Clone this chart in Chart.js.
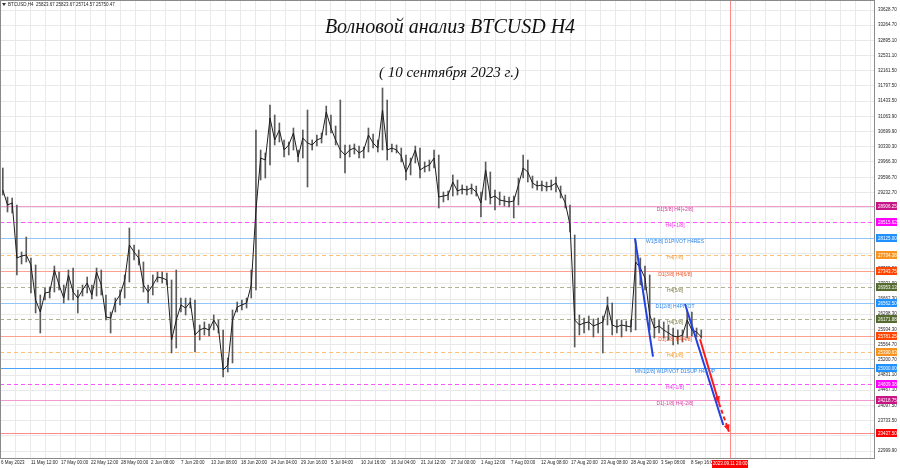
<!DOCTYPE html>
<html>
<head>
<meta charset="utf-8">
<script src="https://cdn.jsdelivr.net/npm/chart.js@4.4.0/dist/chart.umd.min.js"></script>
<style>
  html, body { margin: 0; padding: 0; background: #fff; }
  #wrap { width: 900px; height: 468px; }
</style>
</head>
<body>
<div id="wrap"><canvas id="chart" width="900" height="468"></canvas></div>
<script>
// BTCUSD H4, 6 May – 10 Sep 2023. Each slot = 5 H4 bars (bar index 5i..5i+4)

const xLabels = ['6 May 2023', '11 May 12:00', '17 May 00:00', '22 May 12:00', '28 May 00:00', '2 Jun 08:00',
    '7 Jun 20:00', '13 Jun 08:00', '18 Jun 20:00', '24 Jun 04:00', '29 Jun 16:00', '5 Jul 04:00',
    '10 Jul 16:00', '16 Jul 04:00', '21 Jul 12:00', '27 Jul 00:00', '1 Aug 12:00', '7 Aug 00:00',
    '12 Aug 08:00', '17 Aug 20:00', '23 Aug 08:00', '28 Aug 20:00', '3 Sep 08:00', '8 Sep 16:00'];

const yTicks = [33628.70, 33264.70, 32895.10, 32531.10, 32161.50, 31797.50, 31433.50, 31063.90, 30699.90,
    30330.30, 29966.30, 29596.70, 29232.70, 28863.10, 28499.10, 28129.50, 27765.50, 27395.90, 27031.90,
    26662.30, 26298.30, 25934.30, 25564.70, 25200.70, 24831.10, 24467.10, 24097.50, 23733.50, 23369.50, 22999.90];

const closes = [29291, 28930, 28978, 27652, 27700, 27725, 27484, 26640, 26351, 26809,
    26833, 27363, 27002, 26688, 27243, 26833, 26688, 26881, 27050, 26761,
    27315, 27002, 26230, 26206, 26592, 26761, 27122, 27966, 27797, 27652,
    27002, 26833, 27002, 27194, 27170, 27122, 25676, 26158, 26520, 26447,
    26592, 25797, 25917, 25965, 25917, 26158, 25965, 24953, 25074, 26158,
    26471, 26520, 26568, 27002, 28809, 30062, 30014, 31026, 30496, 30737,
    30255, 30376, 30665, 30086, 30544, 30424, 30376, 30496, 30544, 31171,
    30785, 30496, 30255, 30135, 30255, 30303, 30183, 30255, 30617, 30424,
    30303, 31219, 30255, 30303, 30255, 30110, 29725, 29966, 30255, 29773,
    29845, 29894, 30062, 29122, 29146, 29171, 29484, 29267, 29315, 29291,
    29339, 29243, 28978, 29773, 29098, 29146, 29050, 29026, 29002, 29026,
    29412, 29821, 29725, 29460, 29387, 29412, 29363, 29387, 29460, 29219,
    28978, 28448, 26158, 26038, 26086, 26110, 26014, 26062, 26110, 26520,
    26038, 25990, 26038, 26014, 25990, 27556, 27411, 27170, 26279, 25965,
    26014, 25917, 25845, 25772, 25748, 25797, 26158, 25917, 25869, 25750];

const highs = [29821, 29122, 29098, 28930, 27797, 28158, 27652, 27484, 26761, 26929,
    26953, 27459, 27315, 27002, 27363, 27411, 26881, 27002, 27194, 27002,
    27411, 27363, 26761, 26351, 26688, 26881, 27243, 28375, 27966, 27845,
    27556, 27002, 27243, 27315, 27315, 27291, 27122, 27363, 26688, 26688,
    26688, 26640, 26038, 26110, 26062, 26279, 26158, 25917, 25242, 26399,
    26592, 26640, 26688, 27363, 30737, 30255, 30183, 31340, 31099, 30906,
    30496, 30448, 30785, 30255, 30737, 31219, 30496, 30617, 30665, 31315,
    31099, 30833, 31460, 30376, 30376, 30400, 30351, 30327, 30785, 30641,
    30496, 31749, 31460, 30400, 30376, 30303, 30135, 30062, 30351, 30303,
    29966, 30014, 30255, 30135, 29243, 29267, 29653, 29532, 29412, 29387,
    29436, 29387, 29243, 29966, 29725, 29291, 29243, 29146, 29122, 29146,
    29580, 30135, 30014, 29628, 29508, 29508, 29484, 29532, 29604, 29387,
    29171, 28930, 28207, 26279, 26206, 26254, 26182, 26206, 26254, 26712,
    26568, 26158, 26158, 26134, 26158, 28062, 27652, 27459, 27243, 26206,
    26158, 26110, 26038, 25965, 25917, 25917, 26399, 26351, 25965, 25920];

const lows = [29170, 28761, 28737, 27243, 27508, 27556, 26809, 26327, 25845, 26640,
    26688, 26833, 26881, 26568, 26640, 26640, 26327, 26736, 26809, 26664,
    26736, 26761, 26158, 25845, 26351, 26520, 26688, 27074, 27604, 27484,
    26833, 26568, 26761, 27074, 27050, 27002, 25363, 25483, 26351, 26279,
    26447, 25387, 25676, 25797, 25772, 25917, 25845, 24784, 24905, 25122,
    26351, 26399, 26447, 26688, 26881, 29532, 29580, 29894, 30376, 30448,
    30086, 30135, 30255, 29966, 30062, 29363, 30255, 30352, 30424, 30617,
    30665, 30376, 30062, 29701, 30086, 30159, 30062, 30062, 30207, 30303,
    30207, 30255, 30014, 30207, 30183, 29966, 29532, 29653, 29942, 29580,
    29725, 29749, 29821, 28857, 29002, 29050, 29146, 29171, 29195, 29171,
    29195, 29146, 28640, 29050, 28954, 28809, 28930, 28905, 28881, 28616,
    28930, 29580, 29484, 29339, 29291, 29267, 29267, 29291, 29243, 29098,
    28857, 28279, 25507, 25797, 25845, 25917, 25748, 25845, 25363, 26038,
    25797, 25845, 25748, 25893, 25869, 25917, 27002, 26881, 25917, 25724,
    25845, 25724, 25676, 25556, 25580, 25628, 25724, 25772, 25748, 25715];

// Murrey levels (price, caption)
const levelValues = [28906.25, 28515.62, 28125.00, 27734.38, 27343.75, 26953.13, 26562.50,
    26171.88, 25781.25, 25390.63, 25000.00, 24609.38, 24218.75, 23437.50];
const levelNames = ['D1[5/8] H4[+2/8]', 'H4[+1/8]', 'W1[5/8] D1PIVOT H4RES', 'H4[7/8]', 'D1[3/8] H4[6/8]',
    'H4[5/8]', 'D1[2/8] H4PIVOT', 'H4[3/8]', 'D1[1/8] H4[4/8]', 'H4[1/8]', 'MN1[2/8] W1PIVOT D1SUP H4SUP',
    'H4[-1/8]', 'D1[-1/8] H4[-2/8]', ''];

// wave projections: [bar index, price]
const blueWave1 = [[676.3, 28127], [695.5, 25274]];
const blueWave2 = [[729.7, 26544], [770.5, 23627]];
const redArrow = [[745.7, 25693], [765.9, 24150]];
const redArrowDashed = [[765.9, 24150], [776.6, 23466]];

const targetBar = 777.7;
const targetLabel = '2023.09.11 20:00';
const levelTextBar = 719;

const headerText = 'BTCUSD,H4  25823.67 25823.67 25714.57 25750.47';
const titleText = 'Волновой анализ BTCUSD H4';
const subtitleText = '( 10 сентября 2023 г.)';

// ─── styles ────────────────────────────────────────────────────────────────
const SOLID = [], DASH = [4, 3];
const PINK = { line: '#f49ad0', dash: SOLID, box: '#c71585', text: '#d43b9e' };
const MAG = { line: '#ff55ff', dash: DASH, box: '#ff00ff', text: '#f030f0' };
const BLUE = { line: '#92c6fa', dash: SOLID, box: '#1e90ff', text: '#2f86e6' };
const ORNG = { line: '#ffc078', dash: DASH, box: '#f7931e', text: '#f09a30' };
const SALM = { line: '#ffa090', dash: SOLID, box: '#ff4500', text: '#f05528' };
const OLIV = { line: '#b3b290', dash: DASH, box: '#556b2f', text: '#7a7b45' };
const levelStyles = [PINK, MAG, BLUE, ORNG, SALM, OLIV, BLUE, OLIV, SALM, ORNG,
    { line: '#4aa2ff', dash: SOLID, box: '#1e90ff', text: '#2f86e6' }, MAG, PINK,
    { line: '#ff8a8a', dash: SOLID, box: '#ff0000', text: '#ff0000' }];

const FONT = '"Liberation Sans", Arial, sans-serif';

const slotX = i => 5 * i + 2;
const toPts = arr => arr.map(p => ({ x: p[0], y: p[1] }));

// ─── overlay plugin ─────────────────────────────────────────────────────────
const overlay = {
    id: 'overlay',
    beforeDatasetsDraw(chart) {
        const { ctx, chartArea: a, scales: { x, y } } = chart;
        ctx.save();
        ctx.lineWidth = 1;
        levelValues.forEach((v, i) => {
            const st = levelStyles[i];
            const py = Math.round(y.getPixelForValue(v)) + 0.5;
            ctx.strokeStyle = st.line;
            ctx.setLineDash(st.dash);
            ctx.beginPath(); ctx.moveTo(a.left, py); ctx.lineTo(a.right, py); ctx.stroke();
        });
        ctx.setLineDash([]);
        const mx = Math.round(x.getPixelForValue(targetBar)) + 0.5;
        ctx.strokeStyle = '#ff8a8a';
        ctx.beginPath(); ctx.moveTo(mx, a.top); ctx.lineTo(mx, a.bottom); ctx.stroke();
        ctx.restore();
    },
    afterDatasetsDraw(chart) {
        const { ctx, scales: { x, y } } = chart;
        ctx.save();
        // arrow heads
        chart.data.datasets.forEach((ds, di) => {
            if (!ds.arrow) return;
            const pts = chart.getDatasetMeta(di).data;
            const p1 = pts[pts.length - 2], p2 = pts[pts.length - 1];
            const ang = Math.atan2(p2.y - p1.y, p2.x - p1.x);
            const L = 7, W = 3;
            ctx.fillStyle = ds.borderColor;
            ctx.beginPath();
            ctx.moveTo(p2.x, p2.y);
            ctx.lineTo(p2.x - L * Math.cos(ang) + W * Math.sin(ang), p2.y - L * Math.sin(ang) - W * Math.cos(ang));
            ctx.lineTo(p2.x - L * Math.cos(ang) - W * Math.sin(ang), p2.y - L * Math.sin(ang) + W * Math.cos(ang));
            ctx.closePath(); ctx.fill();
        });
        // level captions
        ctx.font = '5px ' + FONT;
        ctx.textAlign = 'center';
        ctx.textBaseline = 'top';
        const tx = x.getPixelForValue(levelTextBar);
        levelValues.forEach((v, i) => {
            if (!levelNames[i]) return;
            ctx.fillStyle = levelStyles[i].text;
            ctx.fillText(levelNames[i], tx, y.getPixelForValue(v) + 1);
        });
        ctx.restore();
    },
    afterDraw(chart) {
        const { ctx, chartArea: a, scales: { x, y } } = chart;
        ctx.save();
        // frame
        ctx.strokeStyle = '#8a8a8a'; ctx.lineWidth = 1;
        ctx.strokeRect(a.left + 0.5, a.top - 0.5, a.right - a.left - 1, a.bottom - a.top);
        // price boxes on the right axis
        ctx.font = '4.5px ' + FONT;
        ctx.textBaseline = 'middle';
        ctx.textAlign = 'left';
        levelValues.forEach((v, i) => {
            const py = Math.round(y.getPixelForValue(v));
            ctx.fillStyle = levelStyles[i].box;
            ctx.fillRect(a.right + 1, py - 4, 21, 8);
            ctx.fillStyle = '#fff';
            ctx.fillText(v.toFixed(2), a.right + 3, py + 0.5);
        });
        // time marker box
        const mx = x.getPixelForValue(targetBar);
        ctx.fillStyle = '#ff0000';
        ctx.fillRect(mx - 18, a.bottom + 1, 36, 8);
        ctx.fillStyle = '#fff';
        ctx.textAlign = 'center';
        ctx.fillText(targetLabel, mx, a.bottom + 5);
        // header
        ctx.fillStyle = '#333';
        ctx.beginPath(); ctx.moveTo(2, 3); ctx.lineTo(6, 3); ctx.lineTo(4, 6); ctx.closePath(); ctx.fill();
        ctx.fillStyle = '#222';
        ctx.textAlign = 'left';
        ctx.fillText(headerText, 8, 5);
        // title
        ctx.fillStyle = '#111';
        ctx.textAlign = 'center';
        ctx.textBaseline = 'middle';
        ctx.font = 'italic 20px "Liberation Serif", serif';
        ctx.fillText(titleText, 450, 28);
        ctx.font = 'italic 15px "Liberation Serif", serif';
        ctx.fillText(subtitleText, 449, 73);
        ctx.restore();
    }
};

// ─── chart ─────────────────────────────────────────────────────────────────
new Chart(document.getElementById('chart').getContext('2d'), {
    data: {
        datasets: [
            {
                type: 'bar',
                data: lows.map((l, i) => ({ x: slotX(i), y: [l, highs[i]] })),
                backgroundColor: '#5a5a5a',
                barThickness: 1,
                grouped: false,
                order: 3
            },
            {
                type: 'line',
                data: closes.map((c, i) => ({ x: slotX(i), y: c })),
                borderColor: '#1e1e1e',
                borderWidth: 1,
                pointRadius: 0,
                tension: 0,
                order: 2
            },
            { type: 'line', data: toPts(blueWave1), borderColor: '#2440e0', borderWidth: 2, pointRadius: 0, order: 1 },
            { type: 'line', data: toPts(blueWave2), borderColor: '#2440e0', borderWidth: 2, pointRadius: 0, order: 1 },
            { type: 'line', data: toPts(redArrow), borderColor: '#ff1a1a', borderWidth: 2, pointRadius: 0, order: 1, arrow: true },
            { type: 'line', data: toPts(redArrowDashed), borderColor: '#ff1a1a', borderWidth: 2, borderDash: [4, 3], pointRadius: 0, order: 1, arrow: true }
        ]
    },
    options: {
        responsive: false,
        animation: false,
        devicePixelRatio: 1,
        layout: { padding: { top: 1, left: 0, right: 0, bottom: 0 } },
        plugins: { legend: { display: false }, tooltip: { enabled: false } },
        scales: {
            x: {
                type: 'linear',
                offset: false,
                min: -1,
                max: 932.33,
                afterBuildTicks: s => {
                    const t = [];
                    for (let v = 0; v <= 932; v += 16) t.push({ value: v });
                    s.ticks = t;
                },
                afterFit: s => { s.height = 9; s.paddingLeft = 0; s.paddingRight = 0; },
                ticks: {
                    autoSkip: false, maxRotation: 0, align: 'start', padding: 1,
                    color: '#222', font: { size: 4.5, family: FONT },
                    callback: v => (v % 32 === 0 ? (xLabels[v / 32] || '') : '')
                },
                grid: { color: '#e9e9e9', drawTicks: false, offset: false },
                border: { display: false }
            },
            y: {
                type: 'linear',
                position: 'right',
                min: 22808,
                max: 33846,
                afterBuildTicks: s => { s.ticks = yTicks.map(v => ({ value: v })); },
                afterFit: s => { s.width = 25; s.paddingTop = 0; s.paddingBottom = 0; },
                ticks: {
                    autoSkip: false, padding: 3,
                    color: '#222', font: { size: 4.5, family: FONT },
                    callback: v => v.toFixed(2)
                },
                grid: { color: '#e9e9e9', drawTicks: false },
                border: { display: false }
            }
        }
    },
    plugins: [overlay]
});
</script>
</body>
</html>
